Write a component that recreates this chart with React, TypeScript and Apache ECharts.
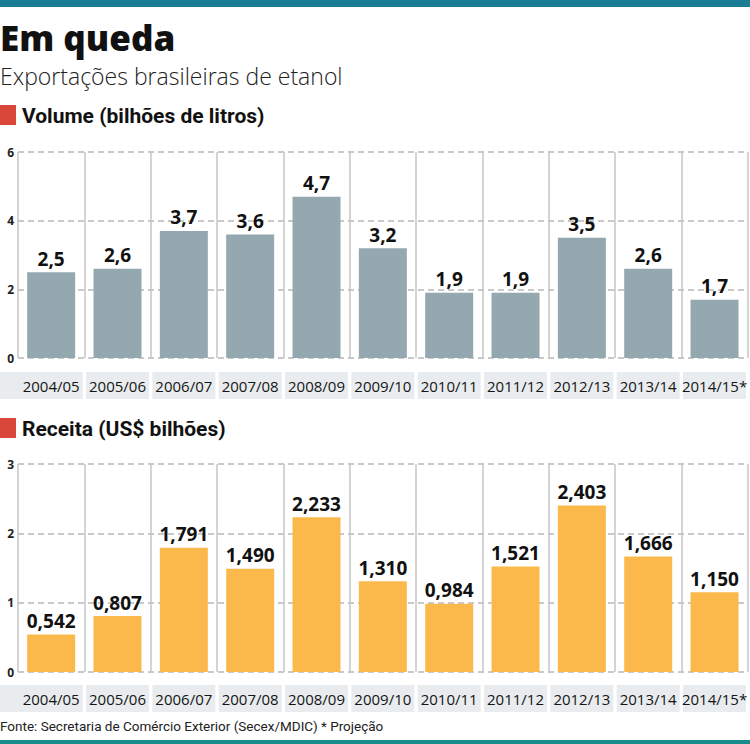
import React, { useEffect, useRef } from "react";
import * as echarts from "echarts";

const categories = ["2004/05", "2005/06", "2006/07", "2007/08", "2008/09", "2009/10", "2010/11", "2011/12", "2012/13", "2013/14", "2014/15*"];
const volume = [2.5, 2.6, 3.7, 3.6, 4.7, 3.2, 1.9, 1.9, 3.5, 2.6, 1.7];
const receita = [0.542, 0.807, 1.791, 1.49, 2.233, 1.31, 0.984, 1.521, 2.403, 1.666, 1.15];
const volumeTicks = { min: 0, max: 6, interval: 2 };
const receitaTicks = { min: 0, max: 3, interval: 1 };

const TITLE = "Em queda";
const SUBTITLE = "Exportações brasileiras de etanol";
const HEAD1 = "Volume (bilhões de litros)";
const HEAD2 = "Receita (US$ bilhões)";
const SOURCE = "Fonte: Secretaria de Comércio Exterior (Secex/MDIC) * Projeção";

const FONT = "'Open Sans', 'DejaVu Sans', sans-serif";

export default function App() {
  const ref = useRef<HTMLDivElement>(null);
  useEffect(() => {
    if (!ref.current) return;
    const chart = echarts.init(ref.current, null, { renderer: "svg" });
    const xAxisBase = (gridIndex: number, margin: number) => ({
      type: "category",
      gridIndex,
      data: categories,
      boundaryGap: true,
      axisLine: { show: false },
      axisTick: { show: false },
      splitLine: { show: true, lineStyle: { color: "#c6c6c6", width: 1.5 } },
      axisLabel: {
        interval: 0,
        margin,
        fontFamily: FONT,
        fontSize: 15,
        color: "#151515",
        width: 63,
        height: 27,
        lineHeight: 27,
        align: "center",
        verticalAlign: "top",
        backgroundColor: "#e8ecee",
        overflow: "none",
      },
    });
    const yAxisBase = (gridIndex: number, t: { min: number; max: number; interval: number }) => ({
      type: "value",
      gridIndex,
      min: t.min,
      max: t.max,
      interval: t.interval,
      axisLine: { show: false },
      axisTick: { show: false },
      splitLine: { show: true, lineStyle: { color: "#b8b8b8", width: 1.5, type: [6, 4] } },
      axisLabel: {
        margin: 4,
        fontFamily: FONT,
        fontWeight: "bold",
        fontSize: 12,
        color: "#222",
        verticalAlign: "middle",
        padding: [0, 0, 7, 0],
      },
    });
    const labelStyle = (digits: number) => ({
      show: true,
      position: "top",
      distance: 4,
      fontFamily: FONT,
      fontWeight: "bold",
      fontSize: 19,
      color: "#111",
      formatter: (p: any) => Number(p.value).toFixed(digits).replace(".", ","),
    });
    chart.setOption({
      animation: false,
      backgroundColor: "#ffffff",
      grid: [
        { left: 18, width: 733, top: 152, height: 206 },
        { left: 18, width: 733, top: 464, height: 208 },
      ],
      xAxis: [xAxisBase(0, 14), xAxisBase(1, 13)],
      yAxis: [yAxisBase(0, volumeTicks), yAxisBase(1, receitaTicks)],
      series: [
        {
          type: "bar",
          xAxisIndex: 0,
          yAxisIndex: 0,
          data: volume,
          barWidth: 48,
          itemStyle: { color: "#93a9af" },
          label: labelStyle(1),
        },
        {
          type: "bar",
          xAxisIndex: 1,
          yAxisIndex: 1,
          data: receita,
          barWidth: 48,
          itemStyle: { color: "#fbb94c" },
          label: labelStyle(3),
        },
      ],
      graphic: [
        { type: "rect", left: 0, top: 0, shape: { width: 750, height: 7 }, style: { fill: "#1b7c95" } },
        { type: "rect", left: 0, top: 740, shape: { width: 750, height: 4 }, style: { fill: "#178c8a" } },
        {
          type: "text",
          left: 0,
          top: 19,
          style: { text: TITLE, font: `800 35px ${FONT}`, fill: "#111", lineHeight: 36 },
        },
        {
          type: "text",
          left: 0,
          top: 63,
          style: { text: SUBTITLE, font: `300 23px ${FONT}`, fill: "#222", lineHeight: 25 },
        },
        { type: "rect", left: 0, top: 105, shape: { width: 16, height: 20 }, style: { fill: "#d9463a" } },
        {
          type: "text",
          left: 22,
          top: 105,
          style: { text: HEAD1, font: `bold 21px Roboto, ${FONT}`, fill: "#111" },
        },
        { type: "rect", left: 0, top: 418, shape: { width: 16, height: 20 }, style: { fill: "#d9463a" } },
        {
          type: "text",
          left: 22,
          top: 418,
          style: { text: HEAD2, font: `bold 21px Roboto, ${FONT}`, fill: "#111" },
        },
        { type: "rect", left: 0, top: 372, shape: { width: 20, height: 27 }, style: { fill: "#e8ecee" }, z: -1 },
        { type: "rect", left: 0, top: 685, shape: { width: 20, height: 27 }, style: { fill: "#e8ecee" }, z: -1 },
        {
          type: "text",
          left: 0,
          top: 719,
          style: { text: SOURCE, font: `13.5px Roboto, ${FONT}`, fill: "#222" },
        },
      ],
    });
    return () => chart.dispose();
  }, []);
  return (
    <div
      ref={ref}
      style={{ position: "fixed", left: 0, top: 0, width: 750, height: 744, background: "#fff" }}
    />
  );
}
